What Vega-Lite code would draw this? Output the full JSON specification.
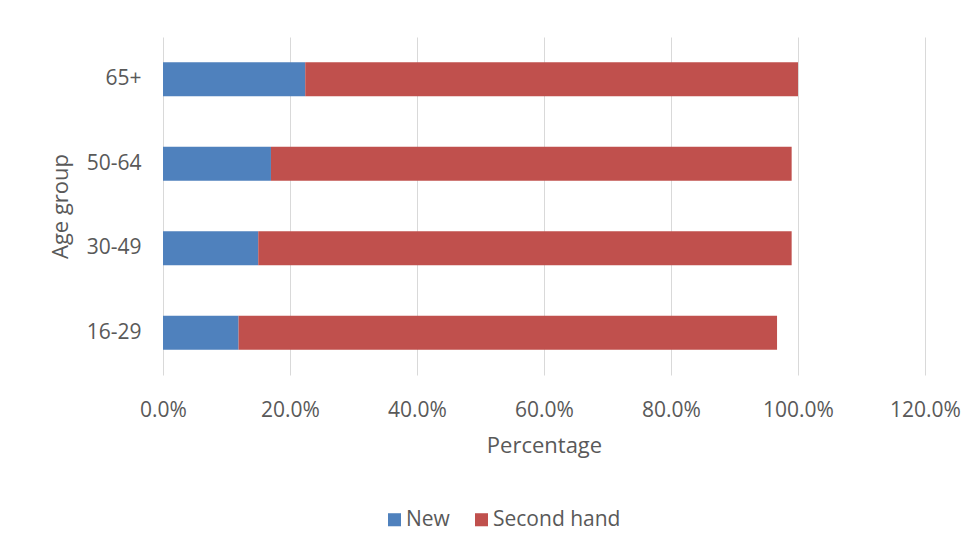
{
  "$schema": "https://vega.github.io/schema/vega-lite/v6.json",
  "width": 762,
  "height": 338,
  "autosize": {"type": "none"},
  "padding": {"left": 163, "top": 37, "right": 53, "bottom": 179},
  "background": "white",
  "config": {
    "font": "Open Sans",
    "view": {"stroke": null},
    "axis": {"labelFont": "Open Sans", "titleFont": "Open Sans", "labelColor": "#595959", "titleColor": "#595959", "labelFontSize": 21, "titleFontSize": 22, "titleFontWeight": "normal"},
    "legend": {"labelFont": "Open Sans", "labelFontSize": 21, "labelColor": "#595959"}
  },
  "data": {
    "values": [
      {"age": "65+", "type": "New", "value": 0.224},
      {"age": "65+", "type": "Second hand", "value": 0.776},
      {"age": "50-64", "type": "New", "value": 0.170},
      {"age": "50-64", "type": "Second hand", "value": 0.820},
      {"age": "30-49", "type": "New", "value": 0.150},
      {"age": "30-49", "type": "Second hand", "value": 0.840},
      {"age": "16-29", "type": "New", "value": 0.119},
      {"age": "16-29", "type": "Second hand", "value": 0.848}
    ]
  },
  "mark": {"type": "bar"},
  "encoding": {
    "y": {
      "field": "age", "type": "nominal",
      "sort": ["65+", "50-64", "30-49", "16-29"],
      "scale": {"paddingInner": 0.6, "paddingOuter": 0.3},
      "axis": {"title": "Age group", "ticks": false, "domain": false, "labelPadding": 22, "titlePadding": 14}
    },
    "x": {
      "field": "value", "type": "quantitative", "stack": "zero",
      "scale": {"domain": [0, 1.2], "nice": false},
      "axis": {"title": "Percentage", "format": ".1%", "values": [0, 0.2, 0.4, 0.6, 0.8, 1.0, 1.2], "ticks": false, "domain": false, "labelFlush": false, "labelOverlap": false, "gridColor": "#d9d9d9", "gridWidth": 1, "labelPadding": 24, "titlePadding": 15}
    },
    "color": {
      "field": "type", "type": "nominal",
      "scale": {"domain": ["New", "Second hand"], "range": ["#4F81BD", "#C0504D"]},
      "legend": {"title": null, "orient": "none", "direction": "horizontal", "legendX": 221, "legendY": 472, "symbolType": "square", "symbolSize": 170, "symbolStrokeWidth": 0, "labelOffset": 1, "columnPadding": 21}
    },
    "order": {"field": "type", "sort": "ascending"}
  }
}
